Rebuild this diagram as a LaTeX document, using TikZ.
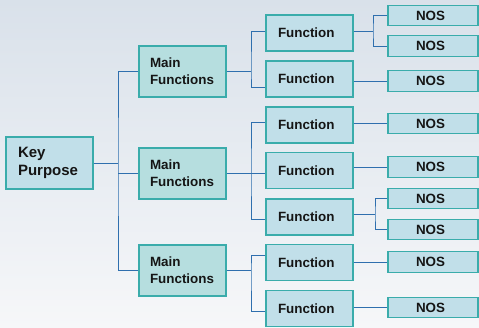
\documentclass[tikz,border=0pt]{standalone}
\usepackage{fontspec}
\setmainfont{Liberation Sans}
\definecolor{bgtop}{HTML}{D9E1EA}
\definecolor{bgbot}{HTML}{F6F7F9}
\definecolor{boxedge}{HTML}{3AACAB}
\definecolor{boxfill}{HTML}{C1DFE9}
\definecolor{mffill}{HTML}{B6DEDF}
\definecolor{linecol}{HTML}{2F6FAE}
\definecolor{txt}{HTML}{151515}
\tikzset{
  box/.style={draw=boxedge, line width=1.2pt, fill=boxfill, inner sep=0pt,
    text=txt, font=\bfseries\fontsize{13.4}{17}\selectfont},
  kpbox/.style={box, minimum width=87pt, minimum height=52pt, align=left,
    text width=63pt, font=\bfseries\fontsize{15}{18}\selectfont},
  mfbox/.style={box, fill=mffill, minimum width=87pt, minimum height=51pt,
    align=left, text width=65pt},
  fbox/.style={box, minimum width=87pt, minimum height=36pt, align=left,
    text width=63pt},
  nosbox/.style={box, minimum width=90pt, minimum height=20.5pt, align=left,
    text width=34pt},
  conn/.style={draw=linecol, line width=0.9pt}
}
\begin{document}
\begin{tikzpicture}[x=1pt,y=-1pt]
\shade[top color=bgtop, bottom color=bgbot] (0,0) rectangle (479,328);
\useasboundingbox (0,0) rectangle (479,328);
\clip (0,0) rectangle (479,328);
% key purpose
\node[kpbox] (kp) at (49.5,163) {Key\\Purpose};
% main functions
\node[mfbox] (mf1) at (182.5,71.5) {Main\\Functions};
\node[mfbox] (mf2) at (182.5,173.5) {Main\\Functions};
\node[mfbox] (mf3) at (182.5,270.5) {Main\\Functions};
% functions
\node[fbox] (f1) at (309.5,33) {Function};
\node[fbox] (f2) at (309.5,79) {Function};
\node[fbox] (f3) at (309.5,125) {Function};
\node[fbox] (f4) at (309.5,170.5) {Function};
\node[fbox] (f5) at (309.5,217) {Function};
\node[fbox] (f6) at (309.5,262.5) {Function};
\node[fbox] (f7) at (309.5,308.5) {Function};
% NOS
\node[nosbox] (n1) at (433,15.5) {NOS};
\node[nosbox] (n2) at (433,46) {NOS};
\node[nosbox] (n3) at (433,81) {NOS};
\node[nosbox] (n4) at (433,123.5) {NOS};
\node[nosbox] (n5) at (433,167) {NOS};
\node[nosbox] (n6) at (433,198.5) {NOS};
\node[nosbox] (n7) at (433,229.5) {NOS};
\node[nosbox] (n8) at (433,262) {NOS};
\node[nosbox] (n9) at (433,307.5) {NOS};
% key purpose to main functions
\coordinate (bk) at (118,163);
\draw[conn] (kp.east) -- (bk);
\draw[conn] (mf1.west) -| (bk) |- (mf3.west);
\draw[conn] (bk |- mf2.west) -- (mf2.west);
% main function 1
\coordinate (b1) at (251,71.5);
\draw[conn] (mf1.east) -- (b1);
\draw[conn] ([yshift=2pt]f1.west) -| (b1) |- ([yshift=-8pt]f2.west);
% main function 2
\coordinate (b2) at (251,173.5);
\draw[conn] (mf2.east) -- (b2) -- (b2 -| f4.west);
\draw[conn] ([yshift=3pt]f3.west) -| (b2) |- ([yshift=-2pt]f5.west);
% main function 3
\coordinate (b3) at (251,270.5);
\draw[conn] (mf3.east) -- (b3);
\draw[conn] ([yshift=7.5pt]f6.west) -| (b3) |- ([yshift=-2.5pt]f7.west);
% functions to NOS
\coordinate (c1) at (373,31);
\draw[conn] ([yshift=2pt]f1.east) -- (c1);
\draw[conn] (n1.west) -| (c1) |- (n2.west);
\draw[conn] (f2.east |- n3.west) -- (n3.west);
\draw[conn] (f3.east |- n4.west) -- (n4.west);
\draw[conn] (f4.east |- n5.west) -- (n5.west);
\coordinate (c5) at (375,214);
\draw[conn] ([yshift=3pt]f5.east) -- (c5);
\draw[conn] (n6.west) -| (c5) |- (n7.west);
\draw[conn] (f6.east |- n8.west) -- (n8.west);
\draw[conn] (f7.east |- n9.west) -- (n9.west);
\end{tikzpicture}
\end{document}
